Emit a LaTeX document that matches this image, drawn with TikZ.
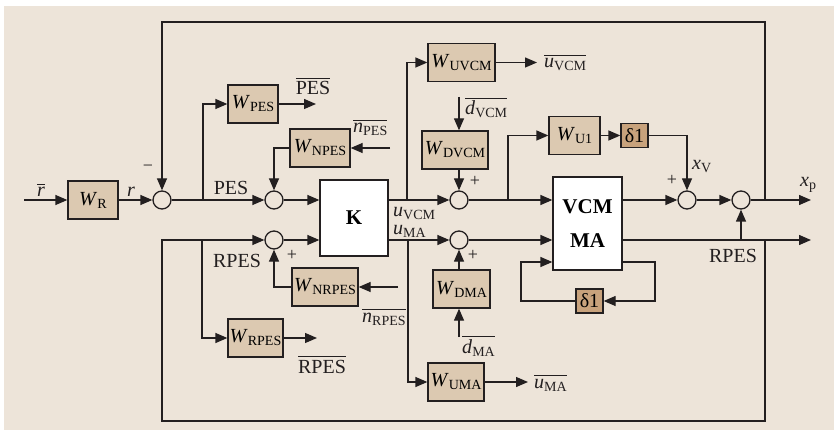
\documentclass[tikz,border=0pt]{standalone}
\usepackage{fontspec}
\setmainfont{Liberation Serif}
\usetikzlibrary{arrows.meta, positioning}
\definecolor{paper}{RGB}{237,228,217}
\definecolor{tan}{RGB}{220,201,177}
\definecolor{delta}{RGB}{200,162,124}
\definecolor{ink}{RGB}{35,31,32}
% italic symbol with upright subscript
\newcommand{\sig}[2]{\textit{#1}\raisebox{-3pt}{\fontsize{14}{14}\selectfont #2}}
% bar over a whole label
\newcommand{\barred}[1]{\setbox0\hbox{#1}\rlap{\rule[\dimexpr\ht0+2.5pt\relax]{\wd0}{0.9pt}}\box0}
\newcommand{\sigbar}[2]{\barred{\sig{#1}{#2}}}

\begin{document}
\begin{tikzpicture}[x=1pt, y=-1pt,
  font=\fontsize{20}{24}\selectfont,
  blk/.style={rectangle, draw=ink, fill=tan, line width=1.3pt, inner sep=0pt, minimum height=38pt},
  dblk/.style={blk, fill=delta, minimum width=27pt, minimum height=24pt},
  plant/.style={rectangle, draw=ink, fill=white, line width=1.3pt, inner sep=0pt,
    font=\bfseries\fontsize{21}{24}\selectfont, align=center},
  sumj/.style={circle, draw=ink, fill=paper, line width=1.3pt, inner sep=0pt, minimum size=18pt},
  arrow/.style={-{Triangle[length=12pt,width=10pt]}, line width=1.3pt, ink},
  lbl/.style={inner sep=0pt, text=ink},
  sign/.style={inner sep=0pt, text=ink, font=\fontsize{18}{20}\selectfont}
]
% Background
\fill[paper] (4,6) rectangle (834,430);
\useasboundingbox (0,0) rectangle (834,430);

% Blocks
\node[blk, minimum width=50pt] (wr) at (93,200) {\sig{W}{R}};
\node[sumj] (s1) at (162,200) {};
\node[sumj] (s2) at (274,200) {};
\node[sumj] (s3) at (274,240) {};
\node[plant, minimum width=68pt, minimum height=76pt] (k) at (354,218) {K};
\node[blk, minimum width=50pt] (wpes) at (253,104) {\sig{W}{PES}};
\node[blk, minimum width=60pt] (wnpes) at (320,148) {\sig{W}{NPES}};
\node[blk, minimum width=55pt] (wrpes) at (255.5,338) {\sig{W}{RPES}};
\node[blk, minimum width=66pt] (wnrpes) at (325,287) {\sig{W}{NRPES}};
\node[sumj] (s4) at (459,200) {};
\node[sumj] (s5) at (459,240) {};
\node[blk, minimum width=67pt] (wuvcm) at (461.5,62.5) {\sig{W}{UVCM}};
\node[blk, minimum width=56pt] (wuma) at (456,382) {\sig{W}{UMA}};
\node[blk, minimum width=66pt] (wdvcm) at (455,150) {\sig{W}{DVCM}};
\node[blk, minimum width=57pt] (wdma) at (461.5,289) {\sig{W}{DMA}};
\node[blk, minimum width=51pt] (wu1) at (574.5,135.5) {\sig{W}{U1}};
\node[dblk] (d1a) at (634.5,135.5) {δ1};
\node[plant, minimum width=69pt, minimum height=93pt] (vcm) at (587.5,223.5) {VCM\\[10pt]MA};
\node[dblk] (d1b) at (589.5,301) {δ1};
\node[sumj] (s6) at (687,200) {};
\node[sumj] (s7) at (741,200) {};

% Free ends and taps
\coordinate (rin) at (24,200);
\coordinate (tpes) at (203,200);
\coordinate (pesout) at (316,104);
\coordinate (npesin) at (390,148);
\coordinate (trpes) at (202,240);
\coordinate (rpesout) at (317,338);
\coordinate (nrpesin) at (398,287);
\coordinate (tuvcm) at (407,200);
\coordinate (uvcmout) at (537,62.5);
\coordinate (tuma) at (408,240);
\coordinate (umaout) at (528,382);
\coordinate (dvcmin) at (459,97);
\coordinate (dmain) at (459,337);
\coordinate (tu1) at (508,200);
\coordinate (xp) at (811,200);
\coordinate (maout) at (811,240);
\coordinate (tma) at (741,240);
\coordinate (txp) at (765,200);
\coordinate (tmb) at (765,240);
\coordinate (fbtop) at (162,22);
\coordinate (fbbot) at (162,421);
\coordinate (lpa) at (655,262);
\coordinate (lpb) at (521,262);

% Main path
\draw[arrow] (rin) -- (wr);
\draw[arrow] (wr) -- (s1);
\draw[arrow] (s1) -- (s2);
\draw[arrow] (s2) -- (s2 -| k.west);
\draw[arrow] (s3) -- (s3 -| k.west);
\draw[arrow] (k.east |- s4) -- (s4);
\draw[arrow] (k.east |- s5) -- (s5);
\draw[arrow] (s4) -- (s4 -| vcm.west);
\draw[arrow] (s5) -- (s5 -| vcm.west);
\draw[arrow] (vcm.east |- s6) -- (s6);
\draw[arrow] (s6) -- (s7);
\draw[arrow] (s7) -- (xp);
\draw[arrow] (vcm.east |- tma) -- (maout);
\draw[arrow] (tma) -- (s7);

% Weights
\draw[arrow] (tpes) |- (wpes.west);
\draw[arrow] (wpes) -- (pesout);
\draw[arrow] (npesin) -- (wnpes);
\draw[arrow] (wnpes.west) -| (s2.north);
\draw[arrow] (trpes) |- (wrpes.west);
\draw[arrow] (wrpes) -- (rpesout);
\draw[arrow] (nrpesin) -- (wnrpes);
\draw[arrow] (wnrpes.west) -| (s3.south);
\draw[arrow] (tuvcm) |- (wuvcm.west);
\draw[arrow] (wuvcm) -- (uvcmout);
\draw[arrow] (tuma) |- (wuma.west);
\draw[arrow] (wuma) -- (umaout);
\draw[arrow] (dvcmin) -- (dvcmin |- wdvcm.north);
\draw[arrow] (s4 |- wdvcm.south) -- (s4);
\draw[arrow] (dmain) -- (dmain |- wdma.south);
\draw[arrow] (s5 |- wdma.north) -- (s5);
\draw[arrow] (tu1) |- (wu1.west);
\draw[arrow] (wu1) -- (d1a);
\draw[arrow] (d1a.east) -| (s6.north);

% Feedback loops
\draw[arrow] (txp) |- (fbtop) -- (s1);
\draw[arrow] (tmb) |- (fbbot) |- (s3);
\draw[arrow] (vcm.east |- lpa) -- (lpa) |- (d1b);
\draw[arrow] (d1b) -| (lpb) -- (lpb -| vcm.west);

% Labels
\node[lbl, anchor=base] (lrbar) at (41,197) {\barred{\textit{r}}};
\node[lbl, anchor=base] (lr) at (131,197) {\textit{r}};
\node[sign] (lminus) at (148,168) {−};
\node[lbl, anchor=base] (lpes) at (231,195) {PES};
\node[lbl, anchor=base] (lpesbar) at (313,95) {\barred{PES}};
\node[lbl, anchor=base west] (lnpes) at (353,133) {\sigbar{n}{PES}};
\node[lbl, anchor=base] (lrpes) at (237,267) {RPES};
\node[sign] (lp1) at (292,255) {+};
\node[lbl, anchor=base] (lrpesbar) at (322,373) {\barred{RPES}};
\node[lbl, anchor=base west] (lnrpes) at (362,322) {\sigbar{n}{RPES}};
\node[lbl, anchor=base west] (luvcm) at (393,216) {\sig{u}{VCM}};
\node[lbl, anchor=base west] (luma) at (393,234) {\sig{u}{MA}};
\node[lbl, anchor=base west] (luvcmbar) at (544,68) {\sigbar{u}{VCM}};
\node[lbl, anchor=base west] (lumabar) at (534,388) {\sigbar{u}{MA}};
\node[lbl, anchor=base west] (ldvcm) at (465,115) {\sigbar{d}{VCM}};
\node[lbl, anchor=base west] (ldma) at (462,353) {\sigbar{d}{MA}};
\node[sign] (lp2) at (475,181) {+};
\node[sign] (lp3) at (473,255) {+};
\node[sign] (lp4) at (672,180) {+};
\node[lbl, anchor=base west] (lxv) at (692,170) {\sig{x}{V}};
\node[lbl, anchor=base west] (lxp) at (800,187) {\sig{x}{p}};
\node[lbl, anchor=base] (lrpes2) at (733,262) {RPES};
\end{tikzpicture}
\end{document}
